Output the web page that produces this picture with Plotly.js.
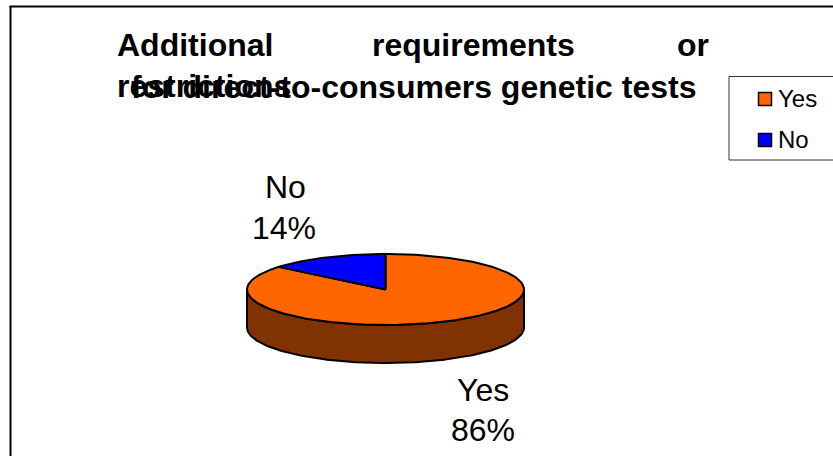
<!DOCTYPE html>
<html><head><meta charset="utf-8">
<script src="https://cdn.plot.ly/plotly-3.0.1.min.js"></script>
<style>html,body{margin:0;padding:0;background:#fff;overflow:hidden}#c{width:833px;height:456px}</style>
</head><body><div id="c"></div>
<script>
const categories = ['Yes', 'No'];
const values = [86, 14];
const topColors = ['#FF6600', '#0000FF'];
const sideColors = ['#803300', '#000080'];
const titleWords = ['Additional', 'requirements', 'or', 'restrictions'];
const titleLine2 = 'for direct-to-consumers genetic tests';

const W = 833, H = 456;
const cx = 385.5, cy = 289.5, rx = 138.5, ry = 35.5, depth = 38 / 35.5;
const FONT = 'Liberation Sans, Arial, sans-serif';
const total = values.reduce((a, b) => a + b, 0);

const traces = [];
function arc(a0, a1, dy) {
  const n = Math.max(2, Math.ceil(Math.abs(a1 - a0) / 0.02));
  const xs = [], ys = [];
  for (let i = 0; i <= n; i++) {
    const a = a0 + (a1 - a0) * i / n;
    xs.push(Math.sin(a)); ys.push(Math.cos(a) - dy);
  }
  return [xs, ys];
}
const line = {color: '#000', width: 2};
let start = 0;
const slices = values.map(v => { const s = [start, start + v / total * 2 * Math.PI]; start = s[1]; return s; });

// front wall of the disc
slices.forEach((s, i) => {
  const a0 = Math.max(s[0], Math.PI / 2), a1 = Math.min(s[1], 3 * Math.PI / 2);
  if (a1 <= a0) return;
  const [x0, y0] = arc(a0, a1, 0), [x1, y1] = arc(a1, a0, depth);
  traces.push({type: 'scatter', mode: 'lines', x: x0.concat(x1, [x0[0]]), y: y0.concat(y1, [y0[0]]),
    fill: 'toself', fillcolor: sideColors[i], line, hoverinfo: 'skip', showlegend: false});
});
// top face
slices.forEach((s, i) => {
  const [x, y] = arc(s[0], s[1], 0);
  traces.push({type: 'scatter', mode: 'lines', x: [0].concat(x, [0]), y: [0].concat(y, [0]),
    fill: 'toself', fillcolor: topColors[i], line, name: categories[i], hoverinfo: 'name', showlegend: false});
});

const ann = (text, px, py, size, bold, xanchor) => ({
  xref: 'paper', yref: 'paper', x: px / W, y: 1 - py / H, xanchor: xanchor || 'center', yanchor: 'middle',
  text: bold ? '<b>' + text + '</b>' : text, showarrow: false, align: 'center',
  font: {family: FONT, size, color: '#000'}
});
const annotations = [
  ann(titleWords[0], 115, 45, 32, true, 'left'),
  ann(titleWords[1], 370, 45, 32, true, 'left'),
  ann(titleWords[2], 693, 45, 32, true),
  ann(titleWords[3], 115, 86, 32, true, 'left'),
  ann(categories[0], 483, 390, 32, false),
  ann(values[0] + '%', 483, 430, 32, false),
  ann(categories[1], 285, 187, 32, false),
  ann(values[1] + '%', 284, 228, 32, false),
  ann(categories[0], 776, 98, 24, false, 'left'),
  ann(categories[1], 776, 139, 24, false, 'left')
];
const rect = (x0, y0, x1, y1, fill, w, c) => ({type: 'rect', xref: 'paper', yref: 'paper',
  x0: x0 / W, x1: x1 / W, y0: 1 - y0 / H, y1: 1 - y1 / H, fillcolor: fill, line: {color: c || '#000', width: w}});
const seg = (x0, y0, x1, y1, w) => ({type: 'line', xref: 'paper', yref: 'paper',
  x0: x0 / W, x1: x1 / W, y0: 1 - y0 / H, y1: 1 - y1 / H, line: {color: '#000', width: w}});
const shapes = [
  seg(10.5, 6, 10.5, 456, 2), seg(9.5, 6.5, 833, 6.5, 2),
  rect(729, 76.5, 840, 160, '#fff', 1, '#333'),
  rect(758.5, 92.5, 771.5, 105.5, topColors[0], 1.5),
  rect(758.5, 133.5, 771.5, 146.5, topColors[1], 1.5)
];

Plotly.newPlot('c', traces, {
  width: W, height: H, margin: {l: 0, r: 0, t: 0, b: 0, pad: 0},
  paper_bgcolor: '#fff', plot_bgcolor: '#fff', showlegend: false,
  title: {text: '<b>' + titleLine2 + '</b>', x: 131 / W, xanchor: 'left', y: 1 - 86.5 / H, yanchor: 'middle',
    font: {family: FONT, size: 32, color: '#000'}},
  xaxis: {range: [-cx / rx, (W - cx) / rx], visible: false, fixedrange: true},
  yaxis: {range: [(cy - H) / ry, cy / ry], visible: false, fixedrange: true},
  annotations, shapes
}, {displayModeBar: false, staticPlot: true});
</script></body></html>
